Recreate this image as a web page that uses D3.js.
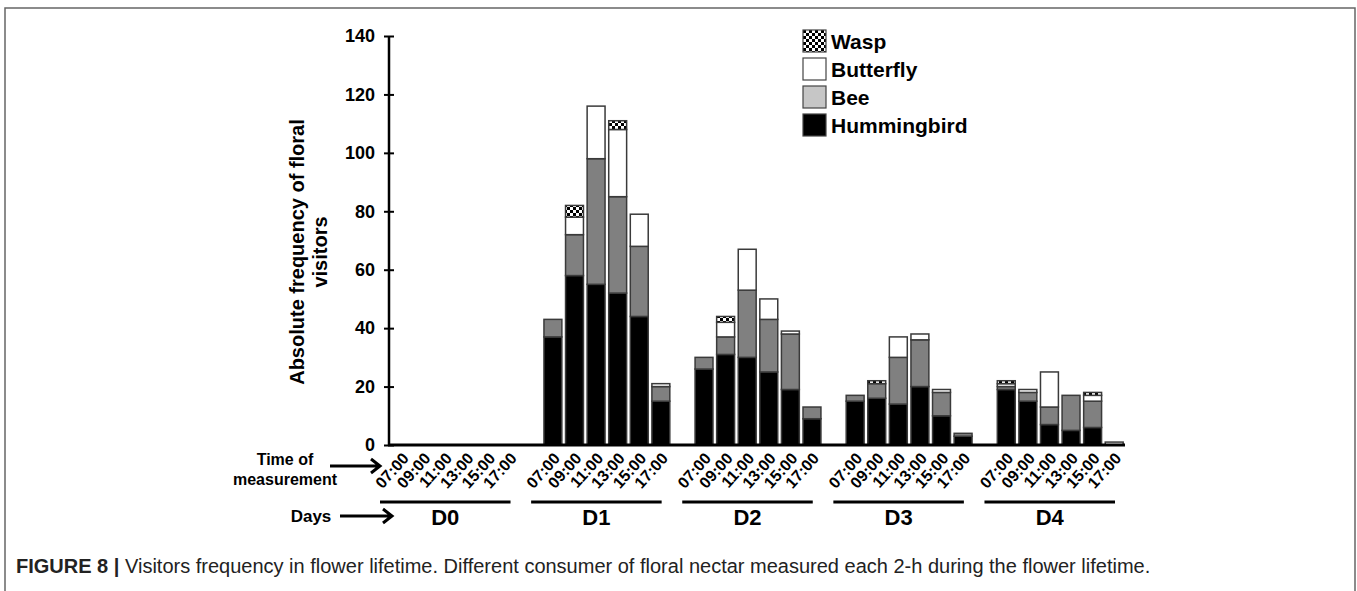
<!DOCTYPE html>
<html>
<head>
<meta charset="utf-8">
<script src="https://cdn.jsdelivr.net/npm/d3@7"></script>
<style>
    body { margin: 0; background: #fff; }
    svg { font-family: "Liberation Sans", Arial, sans-serif; }
</style>
</head>
<body>
<svg id="vis" width="1357" height="591"></svg>
<script>
const days = ["D0", "D1", "D2", "D3", "D4"]

const times = ["07:00", "09:00", "11:00", "13:00", "15:00", "17:00"]

const species = ["Hummingbird", "Bee", "Butterfly", "Wasp"]

// one value per day x time, D0 07:00 ... D4 17:00
const hummingbird = [
    0, 0, 0, 0, 0, 0,
    37, 58, 55, 52, 44, 15,
    26, 31, 30, 25, 19, 9,
    15, 16, 14, 20, 10, 3,
    19, 15, 7, 5, 6, 0
]
const bee = [
    0, 0, 0, 0, 0, 0,
    6, 14, 43, 33, 24, 5,
    4, 6, 23, 18, 19, 4,
    2, 5, 16, 16, 8, 1,
    1, 3, 6, 12, 9, 0
]
const butterfly = [
    0, 0, 0, 0, 0, 0,
    0, 6, 18, 23, 11, 1,
    0, 5, 14, 7, 1, 0,
    0, 0, 7, 2, 1, 0,
    1, 1, 12, 0, 2, 1
]
const wasp = [
    0, 0, 0, 0, 0, 0,
    0, 4, 0, 3, 0, 0,
    0, 2, 0, 0, 0, 0,
    0, 1, 0, 0, 0, 0,
    1, 0, 0, 0, 1, 0
]

const yTicks = [0, 20, 40, 60, 80, 100, 120, 140]

function buildRows() {
    let rows = [];
    for (let d = 0; d < days.length; d++) {
        for (let t = 0; t < times.length; t++) {
            let i = d * times.length + t;
            rows.push({
                "day": days[d],
                "time": times[t],
                "Hummingbird": hummingbird[i],
                "Bee": bee[i],
                "Butterfly": butterfly[i],
                "Wasp": wasp[i]
            });
        }
    }
    return rows
}

var drawChart = function(rows) {
    let svg = d3.select("#vis");

    // checker pattern for wasps
    let defs = svg.append("defs");
    let pat = defs.append("pattern")
        .attr("id", "checker")
        .attr("patternUnits", "userSpaceOnUse")
        .attr("width", 6)
        .attr("height", 6);
    pat.append("rect").attr("width", 6).attr("height", 6).attr("fill", "#fff");
    pat.append("rect").attr("width", 3).attr("height", 3).attr("fill", "#000");
    pat.append("rect").attr("x", 3).attr("y", 3).attr("width", 3).attr("height", 3).attr("fill", "#000");

    let fills = {
        "Hummingbird": "#000",
        "Bee": "#808080",
        "Butterfly": "#fff",
        "Wasp": "url(#checker)"
    };

    // figure frame
    svg.append("path")
        .attr("d", "M5,591 V8 H1355 V591")
        .attr("fill", "none")
        .attr("stroke", "#666")
        .attr("stroke-width", 1.5);

    let yScale = d3.scaleLinear()
        .domain([0, 140])
        .range([445, 36]);

    let dayScale = d3.scaleBand()
        .domain(days)
        .range([391, 1125])
        .paddingInner(1 / 7)
        .paddingOuter(0);

    let timeScale = d3.scaleBand()
        .domain(times)
        .range([0, dayScale.bandwidth()])
        .paddingInner(0.17)
        .paddingOuter(0.085);

    let stack = d3.stack().keys(species);
    let layers = stack(rows);

    let plot = svg.append("g").attr("id", "plot");

    plot.selectAll("g.layer")
        .data(layers)
        .enter()
        .append("g")
        .attr("class", "layer")
        .attr("fill", function(d) { return fills[d.key]; })
        .selectAll("rect")
        .data(function(d) { return d.filter(function(p) { return p[1] > p[0]; }); })
        .enter()
        .append("rect")
        .attr("x", function(d) { return dayScale(d.data.day) + timeScale(d.data.time); })
        .attr("width", timeScale.bandwidth())
        .attr("y", function(d) { return yScale(d[1]); })
        .attr("height", function(d) { return yScale(d[0]) - yScale(d[1]); })
        .attr("stroke", "#3a3a3a")
        .attr("stroke-width", 1.5);

    // y axis with ticks crossing the line
    let yAxis = d3.axisLeft(yScale).tickValues(yTicks).tickSize(5).tickPadding(9);
    let yGroup = plot.append("g").attr("id", "y-axis")
        .attr("transform", "translate(389,0)")
        .call(yAxis);
    yGroup.select(".domain").remove();
    yGroup.selectAll(".tick line")
        .attr("x1", 5)
        .attr("x2", -5)
        .attr("stroke", "#000")
        .attr("stroke-width", 2);
    yGroup.selectAll(".tick text")
        .attr("font-size", 18)
        .attr("font-weight", "bold")
        .attr("font-family", "Liberation Sans, Arial, sans-serif")
        .attr("fill", "#000");
    yGroup.append("line")
        .attr("x1", 0).attr("x2", 0)
        .attr("y1", yScale(140)).attr("y2", yScale(0) + 1)
        .attr("stroke", "#000")
        .attr("stroke-width", 2.5);

    // baseline
    plot.append("line")
        .attr("x1", 388).attr("x2", 1125)
        .attr("y1", yScale(0)).attr("y2", yScale(0))
        .attr("stroke", "#000")
        .attr("stroke-width", 3);

    // y title
    let yTitle = plot.append("text")
        .attr("transform", "translate(304,252) rotate(-90)")
        .attr("text-anchor", "middle")
        .attr("font-size", 20)
        .attr("font-weight", "bold");
    yTitle.append("tspan").attr("x", 0).attr("dy", 0).text("Absolute frequency of floral");
    yTitle.append("tspan").attr("x", 0).attr("dy", 23).text("visitors");

    // time labels under each bar
    rows.forEach(function(r) {
        let cx = dayScale(r.day) + timeScale(r.time) + timeScale.bandwidth() / 2;
        plot.append("text")
            .attr("transform", "translate(" + (cx + 8) + ",459) rotate(-48)")
            .attr("text-anchor", "end")
            .attr("font-size", 16)
            .attr("font-weight", "bold")
            .text(r.time);
    });

    // day lines + labels
    days.forEach(function(d) {
        let x0 = dayScale(d) - 11;
        let x1 = dayScale(d) + dayScale.bandwidth() - 10;
        plot.append("line")
            .attr("x1", x0).attr("x2", x1)
            .attr("y1", 502).attr("y2", 502)
            .attr("stroke", "#000")
            .attr("stroke-width", 3);
        plot.append("text")
            .attr("x", (x0 + x1) / 2)
            .attr("y", 525)
            .attr("text-anchor", "middle")
            .attr("font-size", 22)
            .attr("font-weight", "bold")
            .text(d);
    });

    // left side labels + arrows
    let side = svg.append("g").attr("font-weight", "bold");
    side.append("text").attr("x", 285).attr("y", 465).attr("text-anchor", "middle")
        .attr("font-size", 16).text("Time of");
    side.append("text").attr("x", 285).attr("y", 485).attr("text-anchor", "middle")
        .attr("font-size", 16).text("measurement");
    side.append("text").attr("x", 311).attr("y", 522).attr("text-anchor", "middle")
        .attr("font-size", 17).text("Days");

    function arrow(xa, xb, y) {
        side.append("path")
            .attr("d", "M" + xa + "," + y + " H" + xb + " M" + (xb - 9) + "," + (y - 7) + " L" + xb + "," + y + " L" + (xb - 9) + "," + (y + 7))
            .attr("fill", "none")
            .attr("stroke", "#000")
            .attr("stroke-width", 3);
    }
    arrow(330, 380, 466);
    arrow(340, 392, 516);

    // legend
    let legendFills = {
        "Wasp": "url(#checker)",
        "Butterfly": "#fff",
        "Bee": "#c6c6c6",
        "Hummingbird": "#000"
    };
    let legendOrder = species.slice().reverse();
    let legend = svg.append("g").attr("id", "legend");
    let item = legend.selectAll("g")
        .data(legendOrder)
        .enter()
        .append("g")
        .attr("transform", function(d, i) { return "translate(803," + (30 + i * 28) + ")"; });
    item.append("rect")
        .attr("width", 23)
        .attr("height", 22)
        .attr("fill", function(d) { return legendFills[d]; })
        .attr("stroke", "#444")
        .attr("stroke-width", 1.2);
    item.append("text")
        .attr("x", 28)
        .attr("y", 19)
        .attr("font-size", 21)
        .attr("font-weight", "bold")
        .text(function(d) { return d; });

    // caption
    let cap = svg.append("text")
        .attr("x", 16)
        .attr("y", 573)
        .attr("font-size", 20)
        .attr("fill", "#222");
    cap.append("tspan").attr("font-weight", "bold").text("FIGURE 8 | ");
    cap.append("tspan").text("Visitors frequency in flower lifetime. Different consumer of floral nectar measured each 2-h during the flower lifetime.");
}

drawChart(buildRows());
</script>
</body>
</html>
